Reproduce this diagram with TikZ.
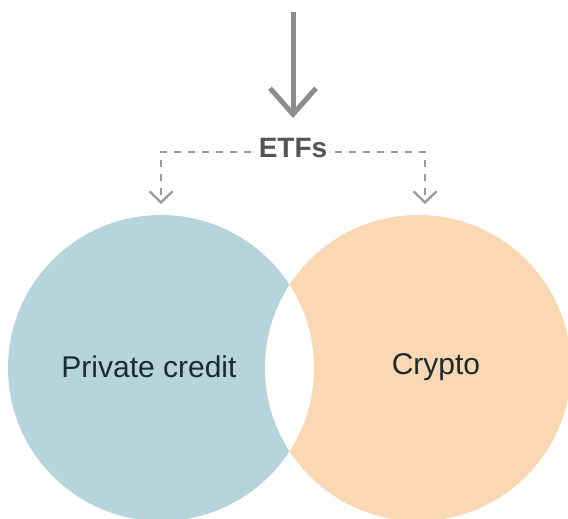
\documentclass[tikz,border=0pt]{standalone}
\usepackage{fontspec}
\setmainfont{Liberation Sans}
\usetikzlibrary{arrows.meta}
\definecolor{pcblue}{HTML}{B5D4DC}
\definecolor{crorange}{HTML}{FAD8B3}
\definecolor{arrowgray}{HTML}{8C8C8C}
\definecolor{dashgray}{HTML}{9A9A9A}
\definecolor{etfgray}{HTML}{555555}
\definecolor{labeltext}{HTML}{1E2A31}
\tikzset{
  bubble/.style={circle, minimum size=306bp, inner sep=0pt, draw=none},
  labeltxt/.style={font=\fontsize{30bp}{34bp}\selectfont, text=labeltext, inner sep=0pt},
  etfstyle/.style={font=\fontsize{28bp}{30bp}\selectfont\bfseries, text=etfgray, inner xsep=8bp, inner ysep=4bp},
  bigarrow/.style={draw=arrowgray, line width=5bp, -{Straight Barb[length=26bp, width=46bp, line width=5bp]}},
  dasharrow/.style={draw=dashgray, line width=2.3bp, dash pattern=on 7bp off 7bp, -{Straight Barb[length=11bp, width=23bp, line width=2.3bp]}}
}
\begin{document}
\begin{tikzpicture}[x=1bp, y=-1bp]
\useasboundingbox (0,0) rectangle (568,519);
% circles
\node[bubble, fill=pcblue] (pc) at (161,368) {};
\node[bubble, fill=crorange] (cr) at (418,368) {};
\begin{scope}
  \clip (161,368) circle (153bp);
  \fill[white] (418,368) circle (153bp);
\end{scope}
% labels
\node[labeltxt] (pclabel) at (149,367) {Private credit};
\node[labeltxt] (crlabel) at (436,367) {Crypto};
% ETFs and arrows
\node[etfstyle] (etfs) at (293,148) {ETFs};
\coordinate (top) at (293,12);
\coordinate (tip) at (293,118);
\draw[bigarrow] (top) -- (tip);
\coordinate (pcin) at (161,204);
\coordinate (crin) at (425,204);
\draw[dasharrow] ([yshift=-4bp]etfs.west) -| (pcin);
\draw[dasharrow] ([yshift=-4bp]etfs.east) -| (crin);
\end{tikzpicture}
\end{document}
